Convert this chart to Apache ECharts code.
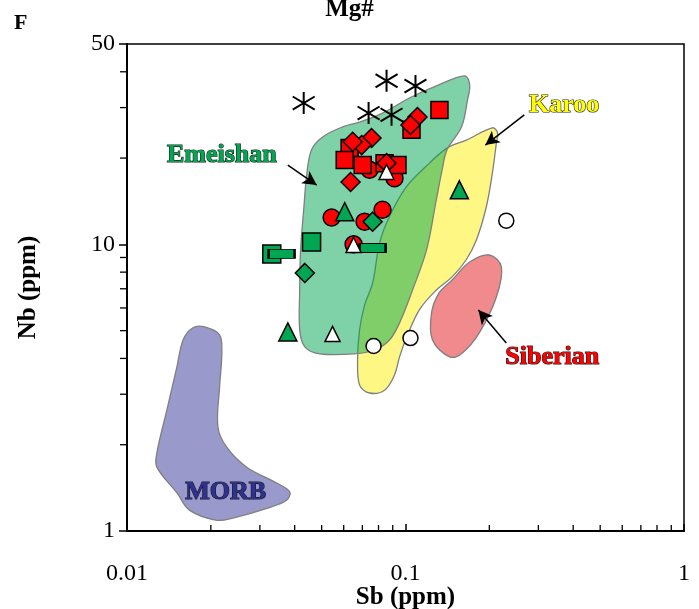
<!DOCTYPE html>
<html>
<head>
<meta charset="utf-8">
<script src="https://cdn.jsdelivr.net/npm/echarts@6/dist/echarts.min.js"></script>
<style>
html,body{margin:0;padding:0;background:#fff;}
#chart{width:699px;height:609px;}
</style>
</head>
<body>
<div id="chart"></div>
<script>
// ---- data: [Sb (ppm), Nb (ppm)] ----
const asterisks = [[0.0431,31.1],[0.0855,37.2],[0.1086,35.7],[0.0737,28.7],[0.0891,28.3]];
const redSquares = [[0.1324,29.4],[0.1051,25.1],[0.0630,21.7],[0.0605,19.7],[0.0702,18.9],[0.0841,19.2],[0.0936,18.9]];
const redDiamonds = [[0.1104,27.8],[0.1042,26.1],[0.0755,23.5],[0.0696,22.2],[0.0646,22.8],[0.0855,19.2],[0.0635,16.5]];
const redCircles = [[0.0743,18.2],[0.0913,17.0],[0.0543,12.4],[0.0713,12.0],[0.0827,13.2],[0.0651,10.0]];
const greenTriangles = [[0.0605,13.0],[0.0378,4.95],[0.1561,15.5]];
const greenDiamonds = [[0.0762,12.0],[0.0435,7.95]];
const greenSquares = [[0.0460,10.2],[0.0331,9.26]];
const greenDashes = [[0.0359,9.26],[0.0762,9.71]];
const whiteTriangles = [[0.0855,17.9],[0.0651,9.95],[0.0547,4.87]];
const whiteCircles = [[0.0768,4.42],[0.1042,4.71],[0.2301,12.1]];

// ---- fields (outline vertices) ----
const morbField = [[0.0190,5.15],[0.0215,4.83],[0.0219,4.18],[0.0215,3.18],[0.0212,2.31],[0.0228,1.96],[0.0269,1.67],[0.0345,1.47],[0.0384,1.37],[0.0374,1.28],[0.0318,1.20],[0.0240,1.11],[0.0210,1.09],[0.0168,1.18],[0.0151,1.36],[0.0128,1.67],[0.0128,1.87],[0.0139,2.64],[0.0151,3.73],[0.0159,4.64],[0.0172,5.11]];
const emeishanField = [[0.163,38.7],[0.170,36.0],[0.167,31.9],[0.159,25.7],[0.141,21.4],[0.136,18.6],[0.129,14.3],[0.119,9.56],[0.106,6.93],[0.0952,5.32],[0.0876,4.64],[0.0774,4.28],[0.0657,4.15],[0.0492,4.15],[0.0435,4.39],[0.0417,5.03],[0.0417,6.93],[0.0420,9.56],[0.0431,13.2],[0.0442,17.5],[0.0460,21.4],[0.0504,23.7],[0.0595,25.7],[0.0684,26.7],[0.0827,28.7],[0.1033,32.4],[0.1291,35.7]];
const karooField = [[0.205,25.5],[0.214,24.5],[0.212,22.6],[0.205,17.7],[0.195,13.5],[0.180,10.4],[0.165,8.82],[0.147,7.70],[0.129,6.93],[0.112,5.90],[0.101,4.75],[0.0952,4.05],[0.0913,3.50],[0.0841,3.10],[0.0743,3.03],[0.0684,3.23],[0.0673,3.95],[0.0684,5.03],[0.0713,6.14],[0.0762,7.33],[0.0807,10.1],[0.0876,12.5],[0.1008,15.9],[0.1219,19.2],[0.1414,21.7],[0.1654,23.1]];
const siberianField = [[0.200,9.18],[0.221,8.34],[0.212,6.55],[0.184,4.91],[0.160,4.18],[0.144,4.05],[0.125,4.64],[0.124,5.76],[0.132,6.77],[0.147,7.51],[0.170,8.68]];

// ---- annotations ----
const fieldLabels = [
  {text:'Emeishan', at:[0.0219,20.5], color:'#00a651'},
  {text:'Karoo', at:[0.3714,30.6], color:'#ffff00'},
  {text:'Siberian', at:[0.3364,4.05], color:'#ff0000'},
  {text:'MORB', at:[0.0226,1.37], color:'#2e3192'}
];
const arrows = [
  [[0.0378,18.9],[0.0480,16.1]],
  [[0.2670,28.3],[0.1935,22.2]],
  [[0.2301,4.53],[0.1827,5.90]]
];

// ---- ticks ----
const xTickLabels = ['0.01','0.1','1'];
const yTickLabels = ['1','10','50'];
const xMinorTicks = [0.02,0.03,0.04,0.05,0.06,0.07,0.08,0.09,0.2,0.3,0.4,0.5,0.6,0.7,0.8,0.9];
const yMinorTicks = [2,3,4,5,6,7,8,9,20,30,40];

const SERIF = '"Liberation Serif", "DejaVu Serif", serif';

function fieldSeries(name, pts, fill, z) {
  return {
    name: name, type: 'custom', z: z, silent: true,
    data: [pts[0]],
    renderItem: function (params, api) {
      return {
        type: 'polygon',
        shape: { points: pts.map(p => api.coord(p)), smooth: 0.35 },
        style: { fill: fill, stroke: '#7f7f7f', lineWidth: 1.3 }
      };
    }
  };
}
function scatter(name, data, symbol, size, color, z) {
  return {
    name: name, type: 'scatter', data: data, symbol: symbol, symbolSize: size, z: z,
    itemStyle: { color: color, borderColor: '#000', borderWidth: 1.5, opacity: 1 }
  };
}

const chart = echarts.init(document.getElementById('chart'), null, {renderer: 'canvas'});
const option = {
  animation: false,
  backgroundColor: '#fff',
  title: {
    text: 'Mg#', left: 'center', top: -8,
    textStyle: { fontFamily: SERIF, fontWeight: 'bold', fontSize: 25, color: '#000' }
  },
  graphic: [
    { type: 'text', left: 14, top: 12, style: { text: 'F', font: 'bold 22px ' + SERIF, fill: '#000' } }
  ],
  grid: { left: 127, right: 15, top: 44, bottom: 78, containLabel: false, outerBoundsMode: 'none',
    show: true, borderColor: '#000', borderWidth: 1.5, backgroundColor: 'transparent' },
  xAxis: {
    type: 'log', logBase: 10, min: 0.01, max: 1,
    name: 'Sb (ppm)', nameLocation: 'middle', nameGap: 54, nameMoveOverlap: false,
    nameTextStyle: { fontFamily: SERIF, fontWeight: 'bold', fontSize: 25, color: '#000' },
    axisLine: { lineStyle: { color: '#000', width: 2 } },
    axisTick: { inside: true, length: 7, lineStyle: { color: '#000', width: 1.5 } },
    axisLabel: { fontFamily: SERIF, fontSize: 24, color: '#000', margin: 31,
      formatter: v => { const i = Math.round(Math.log10(v)) + 2; return xTickLabels[i] || ''; } },
    splitLine: { show: false }
  },
  yAxis: {
    type: 'log', logBase: 10, min: 1, max: 50,
    name: 'Nb (ppm)', nameLocation: 'middle', nameGap: 86, nameRotate: 90, nameMoveOverlap: false,
    nameTextStyle: { fontFamily: SERIF, fontWeight: 'bold', fontSize: 25, color: '#000' },
    axisLine: { lineStyle: { color: '#000', width: 2 } },
    axisTick: { inside: false, length: 8, lineStyle: { color: '#000', width: 1.5 } },
    axisLabel: { fontFamily: SERIF, fontSize: 24, color: '#000', margin: 12,
      formatter: v => { const s = String(Math.round(v)); return yTickLabels.indexOf(s) >= 0 ? s : ''; } },
    splitLine: { show: false }
  },
  series: [
    fieldSeries('MORB', morbField, '#9999cc', 1),
    fieldSeries('Karoo', karooField, '#fff783', 1),
    fieldSeries('Siberian', siberianField, '#f08a8d', 1),
    fieldSeries('Emeishan', emeishanField, 'rgba(0,166,81,0.5)', 2),
    {
      name: 'xMinor', type: 'custom', silent: true, clip: false, z: 5,
      data: xMinorTicks.map(v => [v, 1]),
      renderItem: function (params, api) {
        const p = api.coord([api.value(0), 1]);
        return { type: 'line', shape: { x1: p[0], y1: p[1], x2: p[0], y2: p[1] - 6 }, style: { stroke: '#000', lineWidth: 1.3 } };
      }
    },
    {
      name: 'yMinor', type: 'custom', silent: true, clip: false, z: 5,
      data: yMinorTicks.map(v => [0.01, v]),
      renderItem: function (params, api) {
        const p = api.coord([0.01, api.value(1)]);
        return { type: 'line', shape: { x1: p[0], y1: p[1], x2: p[0] - 7, y2: p[1] }, style: { stroke: '#000', lineWidth: 1.3 } };
      }
    },
    {
      name: 'labels', type: 'custom', silent: true, clip: false, z: 6,
      data: fieldLabels.map(l => l.at),
      renderItem: function (params, api) {
        const l = fieldLabels[params.dataIndex];
        const p = api.coord(l.at);
        return { type: 'text', x: p[0], y: p[1], style: { text: l.text, fill: l.color, stroke: '#1a1a1a', lineWidth: 1.2,
          font: 'bold 26px ' + SERIF, align: 'center', verticalAlign: 'middle' } };
      }
    },
    scatter('Red circles', redCircles, 'circle', 17, '#ff0000', 10),
    scatter('Red squares', redSquares, 'rect', 17, '#ff0000', 11),
    scatter('Red diamonds', redDiamonds, 'diamond', 19, '#ff0000', 12),
    scatter('Green squares', greenSquares, 'rect', 18, '#00a651', 13),
    scatter('Green dashes', greenDashes, 'rect', [26, 9], '#00a651', 14),
    scatter('Green diamonds', greenDiamonds, 'diamond', 19, '#00a651', 14),
    scatter('Green triangles', greenTriangles, 'triangle', 18, '#00a651', 14),
    scatter('White triangles', whiteTriangles, 'triangle', 15, '#ffffff', 15),
    scatter('White circles', whiteCircles, 'circle', 15, '#ffffff', 15),
    {
      name: 'Asterisks', type: 'scatter', data: asterisks, z: 16,
      symbol: 'path://M10,0 L10,20 M1,4 L19,16 M1,16 L19,4', symbolSize: 22,
      itemStyle: { color: 'none', borderColor: '#000', borderWidth: 2, opacity: 1 },
      markLine: {
        silent: true, symbol: ['none', 'arrow'], symbolSize: [11, 14],
        label: { show: false },
        lineStyle: { color: '#000', width: 1.5, type: 'solid' },
        data: arrows.map(a => [{ coord: a[0] }, { coord: a[1] }])
      }
    }
  ]
};
chart.setOption(option);
</script>
</body>
</html>
